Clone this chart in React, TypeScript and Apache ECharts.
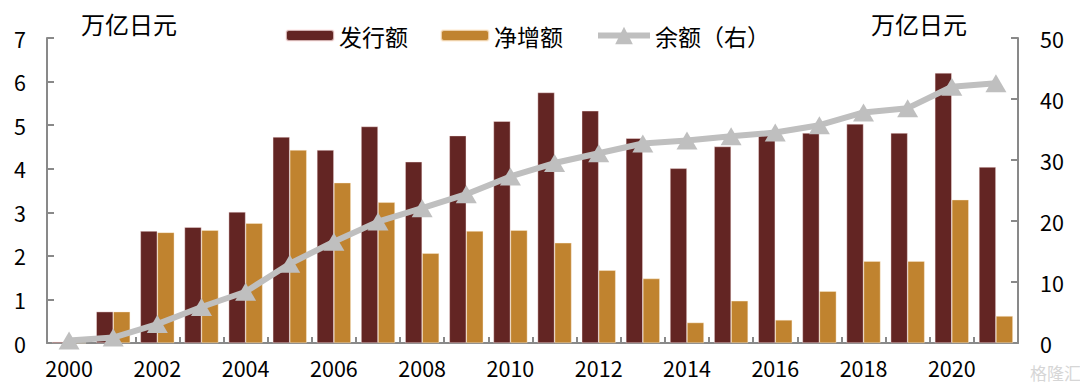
import React, { useEffect, useRef } from "react";
import * as echarts from "echarts";

const years = ["2000","2001","2002","2003","2004","2005","2006","2007","2008","2009","2010","2011","2012","2013","2014","2015","2016","2017","2018","2019","2020","2021"];
const issuance = [0.03, 0.72, 2.57, 2.66, 3.01, 4.73, 4.43, 4.97, 4.16, 4.76, 5.09, 5.75, 5.33, 4.70, 4.01, 4.51, 4.76, 4.82, 5.03, 4.82, 6.20, 4.04];
const netIncrease = [0, 0.72, 2.54, 2.59, 2.75, 4.43, 3.68, 3.23, 2.06, 2.57, 2.59, 2.30, 1.67, 1.48, 0.47, 0.97, 0.53, 1.19, 1.88, 1.88, 3.29, 0.62];
const outstanding = [0.4, 0.9, 3.1, 5.9, 8.4, 13.0, 16.6, 19.9, 22.1, 24.4, 27.3, 29.5, 31.1, 32.7, 33.2, 33.9, 34.5, 35.7, 37.8, 38.5, 42.0, 42.6];
const seriesNames = ["发行额", "净增额", "余额（右）"];
const unitLabel = "万亿日元";

const FONT = "'Noto Sans CJK SC', 'Noto Sans', sans-serif";
const AXIS = { lineStyle: { color: "#898989", width: 2 } };

export default function App() {
  const ref = useRef<HTMLDivElement>(null);
  useEffect(() => {
    document.body.style.margin = "0";
    const chart = echarts.init(ref.current!, null, { renderer: "svg" });
    chart.setOption({
      animation: false,
      textStyle: { fontFamily: FONT },
      grid: { left: 47, right: 62, top: 38, bottom: 46, containLabel: false },
      legend: [
        {
          left: 280,
          top: 19,
          itemWidth: 48,
          itemHeight: 11,
          itemGap: 32,
          textStyle: { fontSize: 23, color: "#000", fontFamily: FONT },
          data: [seriesNames[0], seriesNames[1]],
        },
        {
          left: 590,
          top: 19,
          itemWidth: 52,
          itemHeight: 22,
          itemGap: 0,
          textStyle: { fontSize: 23, color: "#000", fontFamily: FONT },
          data: [{ name: seriesNames[2], lineStyle: { width: 6, color: "#BFBFBF" } }],
        },
      ],
      graphic: [
        { type: "text", left: 81, top: 11, style: { text: unitLabel, fontSize: 24, fill: "#000", fontFamily: FONT } },
        { type: "text", left: 871, top: 11, style: { text: unitLabel, fontSize: 24, fill: "#000", fontFamily: FONT } },
        { type: "text", left: 1030, top: 364, style: { text: "格隆汇", fontSize: 17, fill: "#d6d6d6", fontFamily: FONT } },
      ],
      xAxis: {
        type: "category",
        data: years,
        axisLine: AXIS,
        axisTick: { show: true, inside: true, interval: 0, length: 6, lineStyle: { color: "#898989", width: 2 } },
        axisLabel: { interval: 1, fontSize: 21.5, color: "#000", margin: 14, fontFamily: FONT },
      },
      yAxis: [
        {
          type: "value",
          min: 0,
          max: 7,
          interval: 1,
          axisLine: { show: true, ...AXIS },
          axisTick: { show: true, inside: true, length: 7, lineStyle: { color: "#898989", width: 2 } },
          splitLine: { show: false },
          axisLabel: { fontSize: 21.5, color: "#000", margin: 21, fontFamily: FONT },
        },
        {
          type: "value",
          min: 0,
          max: 50,
          interval: 10,
          position: "right",
          axisLine: { show: true, ...AXIS },
          axisTick: { show: true, inside: true, length: 7, lineStyle: { color: "#898989", width: 2 } },
          splitLine: { show: false },
          axisLabel: { fontSize: 21.5, color: "#000", margin: 22, fontFamily: FONT },
        },
      ],
      series: [
        {
          name: seriesNames[0],
          type: "bar",
          data: issuance,
          barWidth: 17,
          barGap: "0%",
          itemStyle: { color: "#632523", borderColor: "rgba(255,235,235,0.7)", borderWidth: 0.6 },
        },
        {
          name: seriesNames[1],
          type: "bar",
          data: netIncrease,
          barWidth: 17,
          barGap: "0%",
          itemStyle: { color: "#C0832F", borderColor: "rgba(255,240,220,0.7)", borderWidth: 0.6 },
        },
        {
          name: seriesNames[2],
          type: "line",
          yAxisIndex: 1,
          data: outstanding,
          symbol: "triangle",
          symbolSize: [21, 18],
          lineStyle: { color: "#BFBFBF", width: 6 },
          itemStyle: { color: "#BFBFBF" },
        },
      ],
    });
    return () => chart.dispose();
  }, []);
  return <div ref={ref} style={{ width: 1080, height: 389 }} />;
}
